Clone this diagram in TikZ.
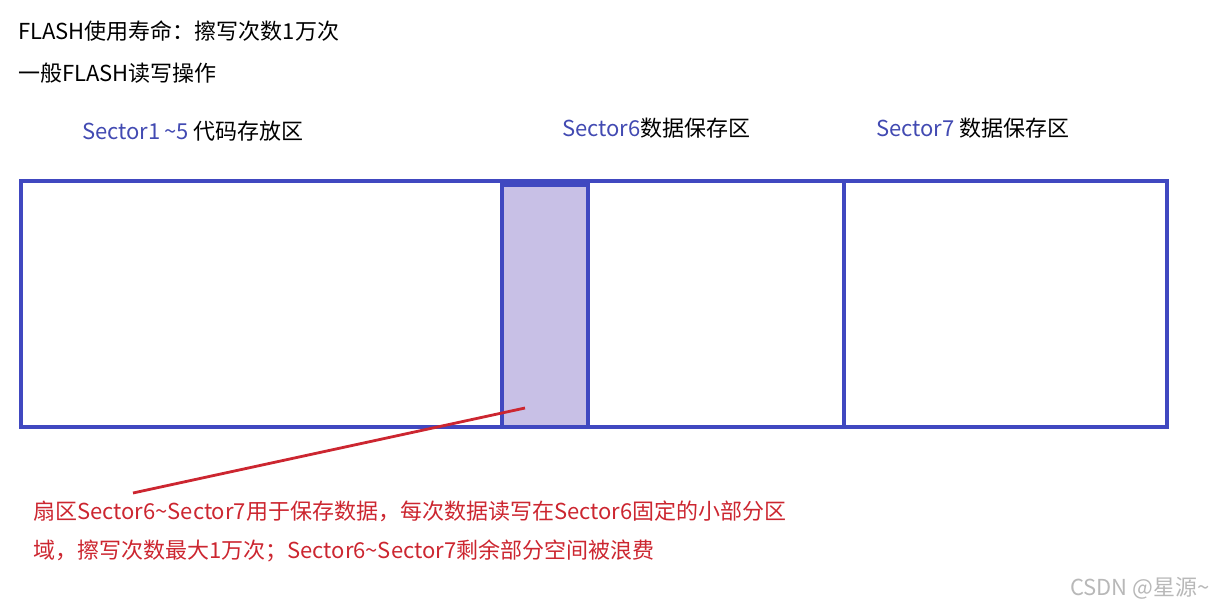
\documentclass[tikz,border=0pt]{standalone}
\usepackage{fontspec}
\setmainfont{Noto Sans CJK SC}
\usetikzlibrary{positioning}

\definecolor{secblue}{RGB}{64,72,192}
\definecolor{lblblue}{RGB}{66,74,178}
\definecolor{usedfill}{RGB}{200,192,230}
\definecolor{notered}{RGB}{204,38,48}

\begin{document}
\begin{tikzpicture}[
    x=1pt, y=-1pt,
    sec/.style={draw=secblue, line width=4pt},
    used/.style={sec, fill=usedfill},
    txt/.style={anchor=west, inner sep=0pt, font=\fontsize{22}{26}\selectfont},
    note/.style={txt, text=notered},
    arr/.style={draw=notered, line width=2.8pt}
]
\useasboundingbox (0,0) rectangle (1223,608);

% header lines
\node[txt] (life) at (18,31) {FLASH使用寿命：擦写次数1万次};
\node[txt] (rw) at (18,73) {一般FLASH读写操作};

% sector labels
\node[txt] (lblA) at (82,131) {\textcolor{lblblue}{Sector1\,\char`\~5} 代码存放区};
\node[txt] (lblB) at (562,128) {\textcolor{lblblue}{Sector6}数据保存区};
\node[txt] (lblC) at (876,128) {\textcolor{lblblue}{Sector7} 数据保存区};

% flash sectors
\draw[sec] (21,181) rectangle (502,427);
\draw[sec] (502,181) rectangle (844,427);
\draw[sec] (844,181) rectangle (1167,427);
\draw[used] (502,185) rectangle (588,427);
\coordinate (usedpt) at (525,408);

% note
\node[note] (note1) at (33,511) {扇区Sector6\char`\~Sector7用于保存数据，每次数据读写在Sector6固定的小部分区};
\node[note] (note2) at (33,551) {域，擦写次数最大1万次；Sector6\char`\~Sector7剩余部分空间被浪费};
\coordinate (notept) at (133,493);
\draw[arr] (notept) -- (usedpt);

% watermark
\node[anchor=west, inner sep=0pt, text=black!28, font=\fontsize{22}{26}\selectfont] (mark) at (1070,588) {CSDN @星源\char`\~};
\end{tikzpicture}
\end{document}
